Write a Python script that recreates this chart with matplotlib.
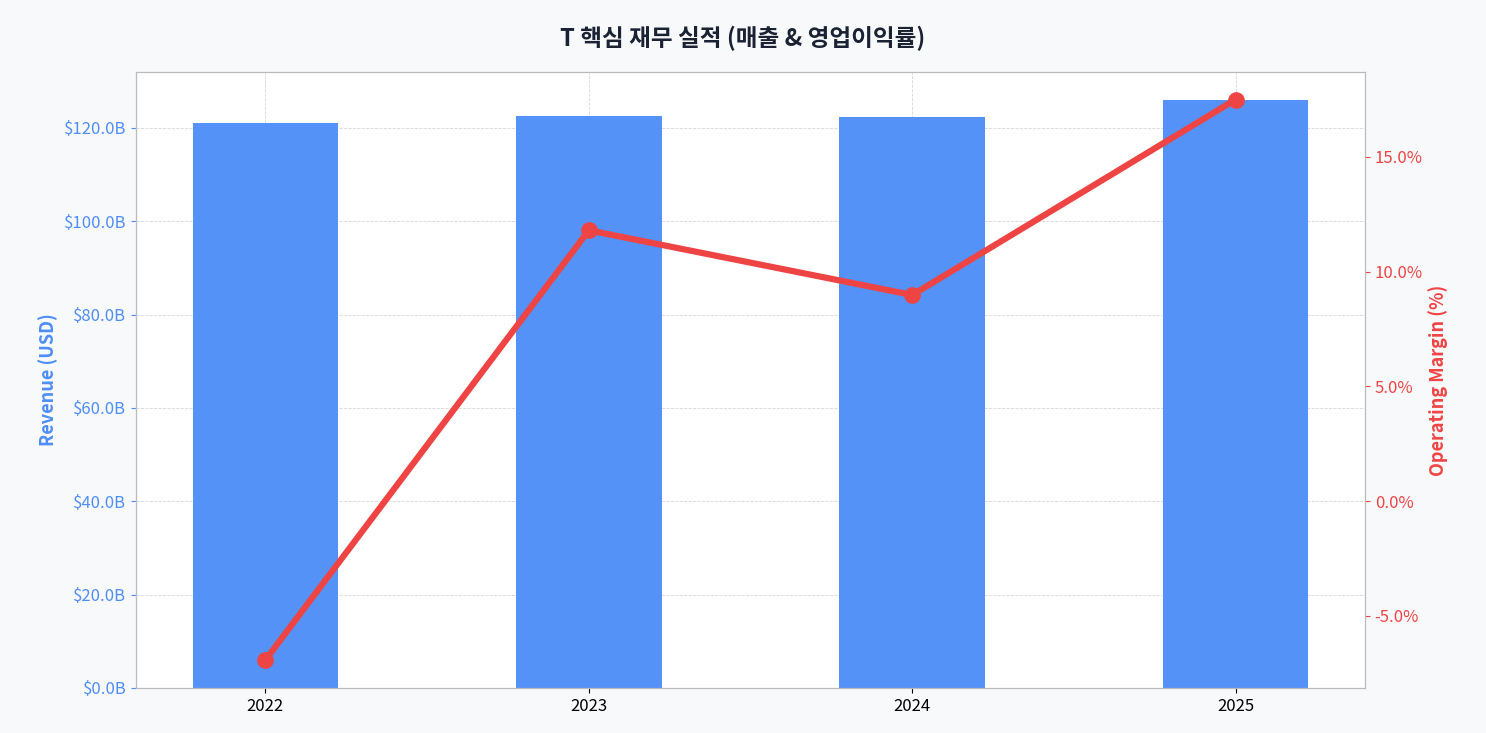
import matplotlib
matplotlib.use("Agg")
import matplotlib.pyplot as plt
from matplotlib.ticker import FuncFormatter

plt.rcParams['font.family'] = ['Noto Sans CJK KR', 'DejaVu Sans']

# ─── 데이터 ───
years = ["2022", "2023", "2024", "2025"]
revenue_b = [121.0, 122.6, 122.3, 125.9]
op_margin = [-6.93, 11.8, 8.98, 17.5]

BLUE = "#5592f8"
BLUE_TXT = "#4f8ef7"
RED = "#ef4444"

fig = plt.figure(figsize=(14.86, 7.33), dpi=100, facecolor="#f8f9fb")
ax = fig.add_axes([136/1486, 1-688/733, (1365-136)/1486, (688-72)/733])
ax.set_facecolor("white")
x = range(len(years))

ax.bar(x, revenue_b, width=0.45, color=BLUE, zorder=2)
ax.set_xlim(-0.4, 3.4)
ax.set_ylim(0, 132)
ax.set_xticks(list(x))
ax.set_xticklabels(years, fontsize=12)
ax.yaxis.set_major_formatter(FuncFormatter(lambda v, p: f"${v:.1f}B"))
ax.tick_params(axis="y", colors=BLUE_TXT, labelsize=12)
ax.set_ylabel("Revenue (USD)", color=BLUE_TXT, fontsize=13, fontweight="bold")
ax.grid(True, linestyle="--", linewidth=0.6, color="#cccccc", alpha=0.8, zorder=0)

ax2 = ax.twinx()
ax2.plot(list(x), op_margin, color=RED, linewidth=4.5, marker="o", markersize=11, zorder=3)
ax2.set_ylim(-8.15, 18.7)
ax2.set_yticks([-5, 0, 5, 10, 15])
ax2.yaxis.set_major_formatter(FuncFormatter(lambda v, p: f"{v:.1f}%"))
ax2.tick_params(axis="y", colors=RED, labelsize=12)
ax2.set_ylabel("Operating Margin (%)", color=RED, fontsize=13, fontweight="bold")

for a in (ax, ax2):
    for s in a.spines.values():
        s.set_color("#bbbbbb")

fig.suptitle("T 핵심 재무 실적 (매출 & 영업이익률)", fontsize=17, fontweight="bold",
             color="#1a2233", y=0.965)

fig.savefig("out.png", dpi=100, facecolor=fig.get_facecolor())
